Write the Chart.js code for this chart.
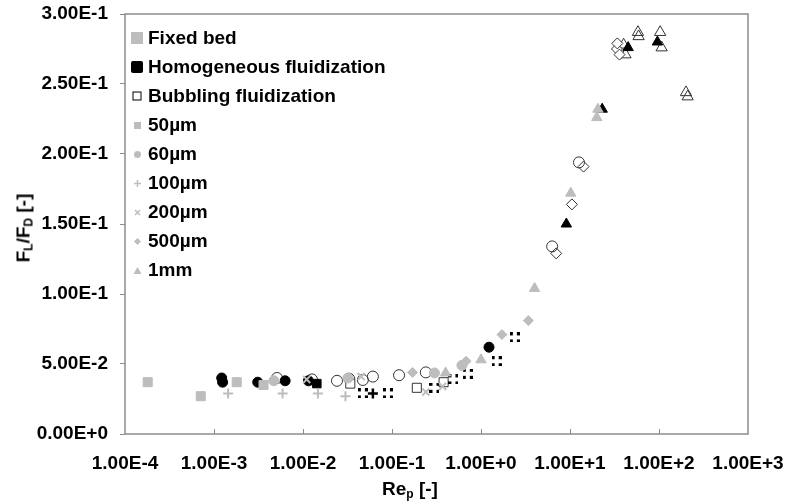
<!DOCTYPE html>
<html>
<head>
<meta charset="utf-8">
<script src="https://cdn.jsdelivr.net/npm/chart.js@4.4.0/dist/chart.umd.min.js"></script>
<style>
  body { margin: 0; background: #fff; }
  #wrap { position: relative; width: 789px; height: 504px; font-family: "Liberation Sans", Arial, sans-serif; }
  #legend { position: absolute; left: 128px; top: 23px; }
  .row { height: 29px; display: flex; align-items: center; font-weight: bold; font-size: 19px; color: #000; }
  .row svg { width: 18px; height: 14px; margin-right: 2px; }
  .title { position: absolute; font-weight: bold; font-size: 19px; color: #000; white-space: nowrap; }
  .title sub { font-size: 12px; vertical-align: -3px; }
  #ytitle { left: 24px; top: 228px; transform: translate(-50%, -50%) rotate(-90deg); }
  #xtitle { left: 410px; top: 489px; transform: translate(-50%, -50%); }
</style>
</head>
<body>
<div id="wrap">
  <canvas id="chart" width="789" height="504"></canvas>
  <div id="legend"></div>
  <div class="title" id="ytitle">F<sub>L</sub>/F<sub>D</sub> [-]</div>
  <div class="title" id="xtitle">Re<sub>p</sub> [-]</div>
</div>
<script>
document.addEventListener("DOMContentLoaded", () => {

    // tick labels
    const xTicks = [1e-4, 1e-3, 1e-2, 1e-1, 1e0, 1e1, 1e2, 1e3];
    const xTickLabels = ['1.00E-4', '1.00E-3', '1.00E-2', '1.00E-1', '1.00E+0', '1.00E+1', '1.00E+2', '1.00E+3'];
    const yTicks = [0, 0.05, 0.1, 0.15, 0.2, 0.25, 0.3];
    const yTickLabels = ['0.00E+0', '5.00E-2', '1.00E-1', '1.50E-1', '2.00E-1', '2.50E-1', '3.00E-1'];

    const legendLabels = ['Fixed bed', 'Homogeneous fluidization', 'Bubbling fluidization',
        '50\u00b5m', '60\u00b5m', '100\u00b5m', '200\u00b5m', '500\u00b5m', '1mm'];

    // [Re_p, FL/FD] - fixed bed (grey)
    const fixed50 = [[1.8e-4, 0.037], [7.1e-4, 0.027], [1.8e-3, 0.037], [3.6e-3, 0.035]];
    const fixed60 = [[4.7e-3, 0.038], [3.2e-2, 0.040], [0.30, 0.0436], [0.61, 0.049]];
    const fixed100 = [[1.44e-3, 0.029], [5.9e-3, 0.029], [1.47e-2, 0.029], [3.0e-2, 0.027]];
    const fixed200 = [[1.1e-2, 0.039], [4.5e-2, 0.041], [0.24, 0.030], [0.37, 0.034]];
    const fixed500 = [[0.17, 0.044], [0.68, 0.052], [1.72, 0.071], [3.4, 0.081]];
    const fixed1mm = [[0.40, 0.0436], [1.0, 0.053], [4.0, 0.104], [10.2, 0.172], [20, 0.226], [20.6, 0.232]];

    // homogeneous fluidization (black)
    const homo50 = [[1.43e-2, 0.036]];
    const homo60 = [[1.22e-3, 0.040], [1.25e-3, 0.037], [3.1e-3, 0.037], [6.3e-3, 0.038], [1.15e-2, 0.038], [1.23, 0.062]];
    const homo100 = [[6.1e-2, 0.029]];
    const homo200 = [[4.7e-2, 0.029], [9.0e-2, 0.029], [0.30, 0.033], [0.49, 0.039], [0.71, 0.043], [1.5, 0.052], [2.4, 0.069]];
    const homo1mm = [[9.1, 0.150], [23, 0.232], [45, 0.276], [96, 0.280]];

    // bubbling fluidization (open)
    const bub50 = [[3.4e-2, 0.036], [0.19, 0.033], [0.38, 0.037]];
    const bub60 = [[5.1e-3, 0.040], [1.26e-2, 0.039], [2.41e-2, 0.038], [3.3e-2, 0.0395], [4.7e-2, 0.0386],
        [6.1e-2, 0.041], [0.12, 0.042], [0.24, 0.044], [6.3, 0.134], [12.6, 0.194]];
    const bub500 = [[7.0, 0.129], [10.5, 0.164], [14.2, 0.191], [33.7, 0.275], [36, 0.271], [34, 0.279]];
    const bub1mm = [[40, 0.278], [42, 0.271], [58, 0.287], [59, 0.284], [103, 0.287], [107, 0.276], [201, 0.244], [210, 0.241]];

    const grey = '#bdbdbd';

    // dotted square marker used for the black 200um points
    const dotted = document.createElement('canvas');
    dotted.width = 10; dotted.height = 10;
    const dc = dotted.getContext('2d');
    dc.fillStyle = '#000';
    [[0, 0], [7, 0], [0, 7], [7, 7]].forEach(([a, b]) => dc.fillRect(a, b, 3, 3));

    const pts = arr => arr.map(p => ({ x: p[0], y: p[1] }));

    function series(arr, style, fill, stroke, r, bw) {
        return {
            data: pts(arr),
            pointStyle: style,
            pointRadius: r,
            pointHoverRadius: r,
            backgroundColor: fill,
            borderColor: stroke,
            pointBorderWidth: bw,
            showLine: false
        };
    }

    const datasets = [
        series(fixed50, 'rect', grey, grey, 6.4, 1),
        series(fixed60, 'circle', grey, grey, 5, 1),
        series(fixed100, 'cross', grey, grey, 5, 2),
        series(fixed200, 'crossRot', grey, grey, 5, 2),
        series(fixed500, 'rectRot', grey, grey, 5, 1),
        series(fixed1mm, 'triangle', grey, grey, 6, 1),
        series(homo50, 'rect', '#000', '#000', 6, 1),
        series(homo60, 'circle', '#000', '#000', 5, 1),
        series(homo100, 'cross', '#000', '#000', 5, 2.5),
        series(homo200, dotted, '#000', '#000', 5, 1),
        series(homo1mm, 'triangle', '#000', '#000', 6, 1),
        series(bub50, 'rect', '#fff', '#333', 6.4, 1),
        series(bub60, 'circle', 'rgba(255,255,255,0)', '#333', 5.5, 1),
        series(bub500, 'rectRot', '#fff', '#333', 5.5, 1),
        series(bub1mm, 'triangle', 'rgba(255,255,255,0)', '#333', 6.5, 1)
    ];

    // box around plot and inward x ticks
    const frame = {
        id: 'frame',
        afterDraw(chart) {
            const { ctx, chartArea: a, scales } = chart;
            ctx.save();
            ctx.strokeStyle = '#8c8c8c';
            ctx.lineWidth = 1.5;
            ctx.strokeRect(a.left, a.top, a.right - a.left, a.bottom - a.top);
            ctx.lineWidth = 1;
            xTicks.slice(1, -1).forEach(v => {
                const px = Math.round(scales.x.getPixelForValue(v)) + 0.5;
                ctx.beginPath();
                ctx.moveTo(px, a.bottom);
                ctx.lineTo(px, a.bottom - 5);
                ctx.stroke();
            });
            ctx.restore();
        }
    };

    const tickFont = { family: '"Liberation Sans", Arial, sans-serif', size: 19, weight: 'bold' };

    new Chart(document.getElementById('chart'), {
        type: 'scatter',
        data: { datasets },
        options: {
            responsive: false,
            animation: false,
            layout: { padding: { top: 14, right: 41 } },
            plugins: { legend: { display: false }, tooltip: { enabled: false } },
            scales: {
                x: {
                    type: 'logarithmic',
                    min: 1e-4,
                    max: 1e3,
                    afterBuildTicks: axis => { axis.ticks = xTicks.map(v => ({ value: v })); },
                    afterFit: axis => {
                        axis.height = 70;
                        axis.paddingLeft = 0;
                        axis.paddingRight = 0;
                    },
                    ticks: {
                        autoSkip: false,
                        maxRotation: 0,
                        padding: 10,
                        color: '#000',
                        font: tickFont,
                        callback: (v) => xTickLabels[xTicks.findIndex(t => Math.abs(Math.log10(t) - Math.log10(v)) < 1e-6)]
                    },
                    grid: { display: false },
                    border: { display: false }
                },
                y: {
                    min: 0,
                    max: 0.3,
                    afterBuildTicks: axis => { axis.ticks = yTicks.map(v => ({ value: v })); },
                    afterFit: axis => {
                        axis.width = 125;
                        axis.paddingTop = 0;
                        axis.paddingBottom = 0;
                    },
                    ticks: {
                        padding: 12,
                        color: '#000',
                        font: tickFont,
                        callback: (v) => yTickLabels[yTicks.findIndex(t => Math.abs(t - v) < 1e-9)]
                    },
                    grid: { drawOnChartArea: false, drawTicks: true, tickLength: 5, color: '#8c8c8c' },
                    border: { display: false }
                }
            }
        },
        plugins: [frame]
    });

    // legend
    const icons = [
        '<rect x="3" y="1" width="12" height="12" fill="#bdbdbd"/>',
        '<rect x="3" y="1" width="12" height="12" rx="2" fill="#000"/>',
        '<rect x="5" y="3" width="8" height="8" fill="#fff" stroke="#000" stroke-width="1"/>',
        '<rect x="6" y="4" width="7" height="7" fill="#bdbdbd"/>',
        '<circle cx="9.5" cy="7.5" r="3.5" fill="#bdbdbd"/>',
        '<path d="M9.5 4v7M6 7.5h7" stroke="#bdbdbd" stroke-width="1.5"/>',
        '<path d="M7 5l5 5M12 5l-5 5" stroke="#bdbdbd" stroke-width="1.5"/>',
        '<path d="M9.5 4l3.5 3.5-3.5 3.5-3.5-3.5z" fill="#bdbdbd"/>',
        '<path d="M9.5 4l4 7h-8z" fill="#bdbdbd"/>'
    ];
    const legend = document.getElementById('legend');
    legendLabels.forEach((name, i) => {
        const row = document.createElement('div');
        row.className = 'row';
        row.innerHTML = '<svg viewBox="0 0 18 14">' + icons[i] + '</svg><span>' + name + '</span>';
        legend.appendChild(row);
    });

});
</script>
</body>
</html>
